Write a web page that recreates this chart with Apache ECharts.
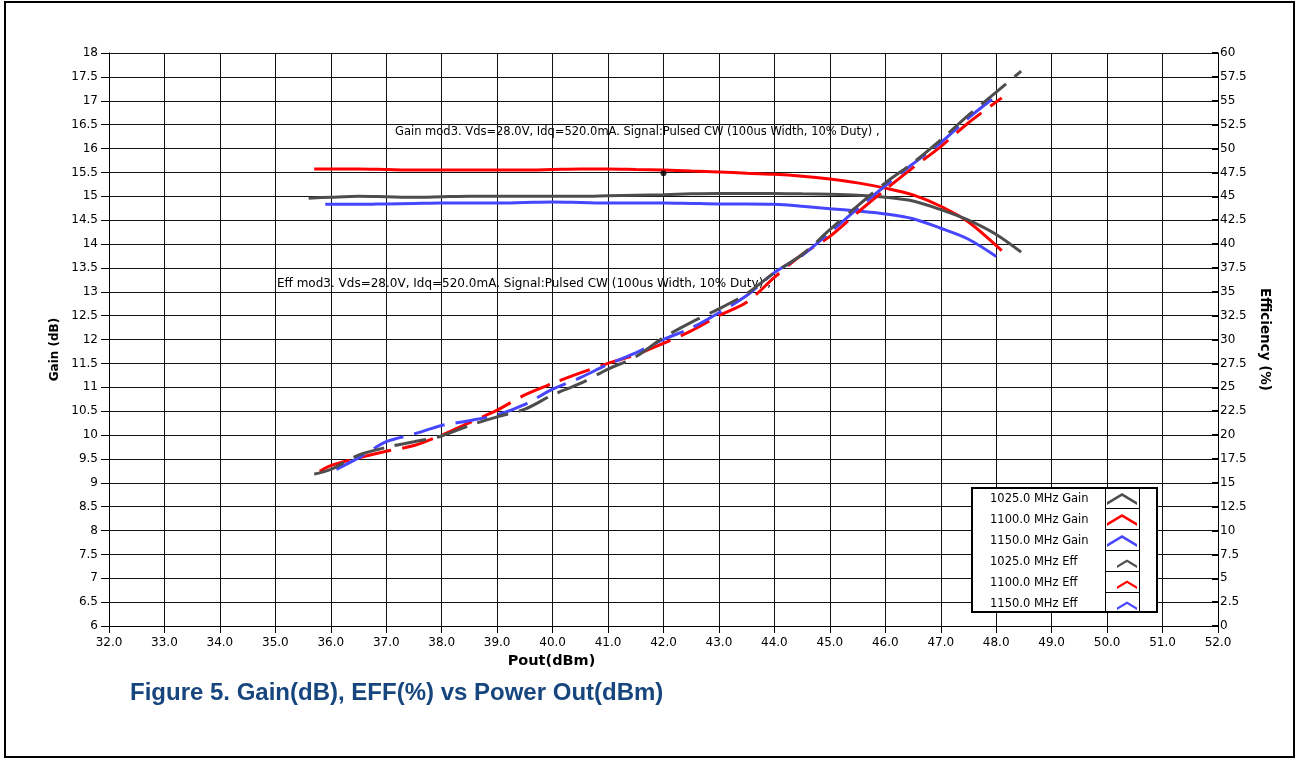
<!DOCTYPE html>
<html>
<head>
<meta charset="utf-8">
<script src="https://cdn.jsdelivr.net/npm/echarts@6/dist/echarts.min.js"></script>
<style>
html,body{margin:0;padding:0;background:#fff;}
#chart{width:1298px;height:760px;}
</style>
</head>
<body>
<div id="chart"></div>
<script>
// ---- data ----
const gain1025X = [35.6, 36.0, 36.5, 37.0, 37.5, 38.0, 38.5, 39.0, 39.5, 40.0, 40.5, 41.0, 41.5, 42.0, 42.5, 43.0, 43.5, 44.0, 44.5, 45.0, 45.5, 46.0, 46.5, 47.0, 47.5, 48.0, 48.45];
const gain1025Y = [14.96, 14.98, 15.0, 14.99, 14.98, 14.99, 15.0, 15.0, 15.0, 15.0, 15.0, 15.01, 15.02, 15.03, 15.05, 15.06, 15.06, 15.06, 15.05, 15.04, 15.02, 14.98, 14.9, 14.72, 14.5, 14.2, 13.83];

const gain1100X = [35.7, 36.0, 36.5, 37.0, 37.5, 38.0, 38.5, 39.0, 39.5, 40.0, 40.5, 41.0, 41.5, 42.0, 42.5, 43.0, 43.5, 44.0, 44.5, 45.0, 45.5, 46.0, 46.5, 47.0, 47.5, 48.1];
const gain1100Y = [15.57, 15.57, 15.57, 15.56, 15.55, 15.55, 15.55, 15.55, 15.55, 15.56, 15.57, 15.57, 15.56, 15.55, 15.53, 15.51, 15.48, 15.46, 15.42, 15.36, 15.28, 15.17, 15.03, 14.79, 14.46, 13.86];

const gain1150X = [35.9, 36.5, 37.0, 37.5, 38.0, 38.5, 39.0, 39.5, 40.0, 40.5, 41.0, 41.5, 42.0, 42.5, 43.0, 43.5, 44.0, 44.5, 45.0, 45.5, 46.0, 46.5, 47.0, 47.5, 48.0];
const gain1150Y = [14.83, 14.83, 14.84, 14.85, 14.86, 14.86, 14.86, 14.87, 14.88, 14.87, 14.86, 14.86, 14.86, 14.85, 14.84, 14.84, 14.83, 14.79, 14.74, 14.69, 14.63, 14.53, 14.33, 14.1, 13.74];

const eff1025X = [35.7, 36.0, 36.5, 37.0, 37.5, 38.0, 38.5, 39.0, 39.5, 40.0, 40.5, 41.0, 41.5, 42.0, 42.5, 43.0, 43.5, 44.0, 44.5, 45.0, 45.5, 46.0, 46.5, 47.0, 47.5, 48.0, 48.45];
const eff1025Y = [15.9, 16.4, 17.9, 18.7, 19.3, 19.9, 21.0, 21.9, 22.7, 24.2, 25.4, 26.9, 28.2, 30.2, 31.8, 33.2, 34.8, 37.0, 38.9, 41.5, 44.0, 46.4, 48.5, 50.9, 53.5, 55.9, 58.1];

const eff1100X = [35.8, 36.0, 36.5, 37.0, 37.5, 38.0, 38.5, 39.0, 39.5, 40.0, 40.5, 41.0, 41.5, 42.0, 42.5, 43.0, 43.5, 44.0, 44.5, 45.0, 45.5, 46.0, 46.5, 47.0, 47.5, 48.1];
const eff1100Y = [16.2, 16.8, 17.6, 18.3, 18.9, 20.0, 21.3, 22.6, 24.2, 25.4, 26.5, 27.5, 28.4, 29.6, 30.9, 32.5, 33.9, 36.5, 38.9, 40.8, 43.3, 45.7, 48.0, 50.2, 52.7, 55.3];

const eff1150X = [36.1, 36.5, 37.0, 37.5, 38.0, 38.5, 39.0, 39.5, 40.0, 40.5, 41.0, 41.5, 42.0, 42.5, 43.0, 43.5, 44.0, 44.5, 45.0, 45.5, 46.0, 46.5, 47.0, 47.5, 48.0];
const eff1150Y = [16.4, 17.6, 19.3, 20.1, 21.0, 21.5, 22.1, 23.2, 24.8, 26.0, 27.4, 28.6, 30.0, 31.2, 32.8, 34.6, 37.0, 38.8, 41.2, 43.7, 46.1, 48.4, 50.6, 53.2, 55.5];

const cursorPoint = [42.0, 15.48];

const seriesNames = ['1025.0 MHz Gain', '1100.0 MHz Gain', '1150.0 MHz Gain', '1025.0 MHz Eff', '1100.0 MHz Eff', '1150.0 MHz Eff'];

const gainNote = 'Gain mod3. Vds=28.0V, Idq=520.0mA. Signal:Pulsed CW (100us Width, 10% Duty) ,';
const effNote = 'Eff mod3. Vds=28.0V, Idq=520.0mA. Signal:Pulsed CW (100us Width, 10% Duty) ,';
const captionText = 'Figure 5. Gain(dB), EFF(%) vs Power Out(dBm)';

// ---- helpers ----
const pairs = (xs, ys) => xs.map((x, i) => [x, ys[i]]);
const GRAY = '#4d4d4d', RED = '#ff0000', BLUE = '#4646ff';
const FONT = 'DejaVu Sans';
const bigChevron = 'path://M0,9 L15,0 L30,9 L30,12 L15,3 L0,12 Z';
const smallChevron = 'path://M0,0 M10,9.5 L20,3.5 L30,9.5 L30,12 L20,6 L10,12 Z';

function gainSeries(name, color, xs, ys) {
  return {
    name, type: 'line', yAxisIndex: 0, data: pairs(xs, ys),
    showSymbol: false, symbol: 'none', smooth: 0.3,
    lineStyle: {color, width: 3}, itemStyle: {color}, z: 3
  };
}
function effSeries(name, color, xs, ys) {
  return {
    name, type: 'line', yAxisIndex: 1, data: pairs(xs, ys),
    showSymbol: false, symbol: 'none', smooth: 0.3,
    lineStyle: {color, width: 3, type: [32, 11]}, itemStyle: {color}, z: 3
  };
}

const chart = echarts.init(document.getElementById('chart'), null, {renderer: 'canvas'});

const gridLeft = 109, gridTop = 53, gridRight = 80, gridBottom = 134;

const option = {
  backgroundColor: '#ffffff',
  animation: false,
  title: {
    text: captionText, left: 130, top: 681, padding: 0,
    textStyle: {fontFamily: 'Liberation Sans', fontWeight: 'bold', fontSize: 24, color: '#17467e'}
  },
  grid: {left: gridLeft, top: gridTop, right: gridRight, bottom: gridBottom, containLabel: false},
  xAxis: {
    type: 'value', min: 32, max: 52, interval: 1,
    name: 'Pout(dBm)', nameLocation: 'middle', nameGap: 27,
    nameTextStyle: {fontFamily: FONT, fontWeight: 'bold', fontSize: 14.5, color: '#000', padding: [0, 224, 0, 0]},
    axisLine: {show: true, lineStyle: {color: '#000', width: 1}},
    axisTick: {show: true, inside: false, length: 7, lineStyle: {color: '#000'}},
    axisLabel: {margin: 11, fontFamily: FONT, fontSize: 12, color: '#000', formatter: v => v.toFixed(1)},
    splitLine: {show: true, lineStyle: {color: '#111', width: 1}}
  },
  yAxis: [
    {
      type: 'value', min: 6, max: 18, interval: 0.5, position: 'left',
      name: 'Gain (dB)', nameLocation: 'middle', nameGap: 34,
      nameTextStyle: {fontFamily: FONT, fontWeight: 'bold', fontSize: 12, color: '#000', padding: [0, 20, 0, 0]},
      axisLine: {show: true, lineStyle: {color: '#000', width: 1}},
      axisTick: {show: true, inside: false, length: 8, lineStyle: {color: '#000'}},
      axisLabel: {margin: 11, fontFamily: FONT, fontSize: 12, color: '#000'},
      splitLine: {show: true, lineStyle: {color: '#111', width: 1}}
    },
    {
      type: 'value', min: 0, max: 60, interval: 2.5, position: 'right',
      name: 'Efficiency (%)', nameLocation: 'middle', nameGap: 38, nameRotate: -90,
      nameTextStyle: {fontFamily: FONT, fontWeight: 'bold', fontSize: 13.5, color: '#000'},
      axisLine: {show: true, lineStyle: {color: '#000', width: 1}},
      axisTick: {show: true, inside: true, length: 6, lineStyle: {color: '#000', width: 2}},
      axisLabel: {margin: 2, fontFamily: FONT, fontSize: 12, color: '#000'},
      splitLine: {show: false}
    }
  ],
  legend: {
    orient: 'vertical', left: 985, top: 488, align: 'right',
    itemWidth: 30, itemHeight: 12, itemGap: 9, z: 20,
    selectedMode: false,
    data: [
      {name: seriesNames[0], icon: bigChevron},
      {name: seriesNames[1], icon: bigChevron},
      {name: seriesNames[2], icon: bigChevron},
      {name: seriesNames[3], icon: smallChevron},
      {name: seriesNames[4], icon: smallChevron},
      {name: seriesNames[5], icon: smallChevron}
    ],
    formatter: n => '{t|' + n + '}',
    itemStyle: {borderWidth: 0},
    textStyle: {rich: {t: {width: 112, align: 'left', fontFamily: FONT, fontSize: 11.5, lineHeight: 12, color: '#000'}}}
  },
  graphic: [
    // outer frame
    {type: 'rect', shape: {x: 5, y: 2, width: 1289, height: 755}, style: {fill: null, stroke: '#000', lineWidth: 2}, z: 1, silent: true},
    // notes (behind grid lines)
    {type: 'text', x: 395, y: 132, z: -1, silent: true, style: {text: gainNote, fontFamily: FONT, fontSize: 11.5, fill: '#000', verticalAlign: 'middle'}},
    {type: 'text', x: 277, y: 284, z: -1, silent: true, style: {text: effNote, fontFamily: FONT, fontSize: 12, fill: '#000', verticalAlign: 'middle'}},
    // legend table
    {type: 'rect', shape: {x: 972, y: 488, width: 185, height: 124}, style: {fill: '#fff', stroke: '#000', lineWidth: 2}, z: 10, silent: true},
    {type: 'line', shape: {x1: 1105.5, y1: 488, x2: 1105.5, y2: 612}, style: {stroke: '#000', lineWidth: 1}, z: 11, silent: true},
    {type: 'line', shape: {x1: 1139.5, y1: 488, x2: 1139.5, y2: 612}, style: {stroke: '#000', lineWidth: 1}, z: 11, silent: true},
    {type: 'line', shape: {x1: 1105, y1: 508.5, x2: 1140, y2: 508.5}, style: {stroke: '#000', lineWidth: 1}, z: 11, silent: true},
    {type: 'line', shape: {x1: 1105, y1: 529.5, x2: 1140, y2: 529.5}, style: {stroke: '#000', lineWidth: 1}, z: 11, silent: true},
    {type: 'line', shape: {x1: 1105, y1: 550.5, x2: 1140, y2: 550.5}, style: {stroke: '#000', lineWidth: 1}, z: 11, silent: true},
    {type: 'line', shape: {x1: 1105, y1: 571.5, x2: 1140, y2: 571.5}, style: {stroke: '#000', lineWidth: 1}, z: 11, silent: true},
    {type: 'line', shape: {x1: 1105, y1: 592.5, x2: 1140, y2: 592.5}, style: {stroke: '#000', lineWidth: 1}, z: 11, silent: true}
  ],
  series: [
    gainSeries(seriesNames[1], RED, gain1100X, gain1100Y),
    gainSeries(seriesNames[2], BLUE, gain1150X, gain1150Y),
    gainSeries(seriesNames[0], GRAY, gain1025X, gain1025Y),
    effSeries(seriesNames[4], RED, eff1100X, eff1100Y),
    effSeries(seriesNames[5], BLUE, eff1150X, eff1150Y),
    effSeries(seriesNames[3], GRAY, eff1025X, eff1025Y),
    {
      name: 'cursor', type: 'scatter', yAxisIndex: 0, data: [cursorPoint],
      symbolSize: 6, itemStyle: {color: '#000'}, z: 5, silent: true
    }
  ]
};
chart.setOption(option);
</script>
</body>
</html>
